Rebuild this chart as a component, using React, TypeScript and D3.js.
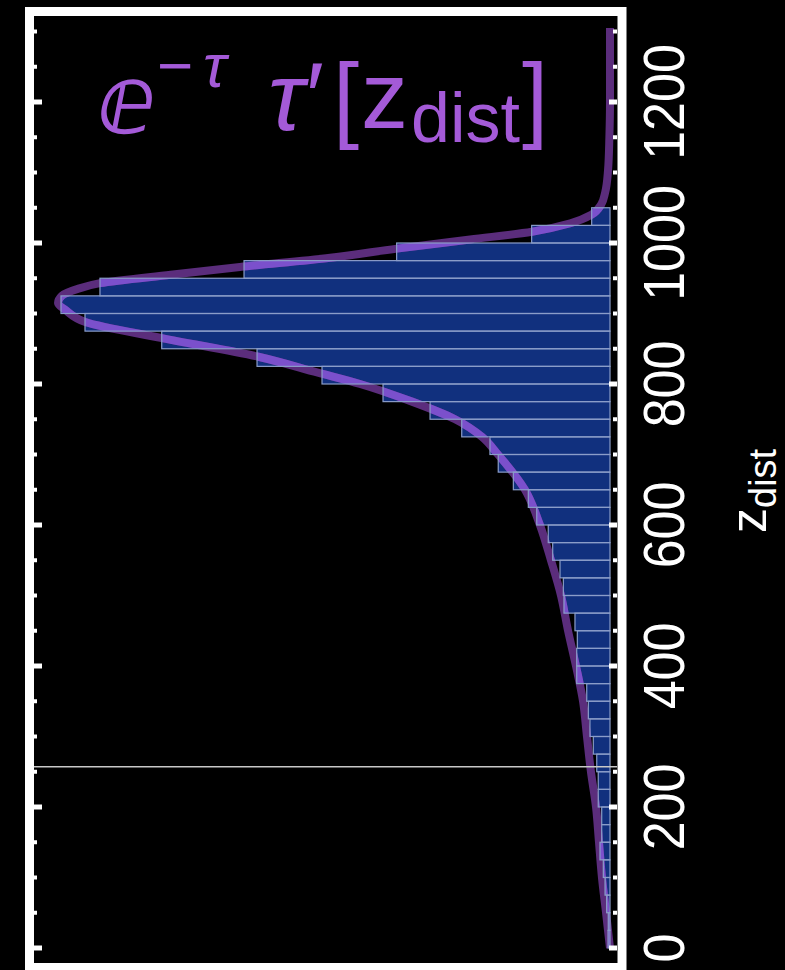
import React, { useRef, useEffect } from 'react';
import * as d3 from 'd3';

// histogram bins of z_dist (lower edge), width 25
const binStart = [0, 25, 50, 75, 100, 125, 150, 175, 200, 225, 250, 275, 300, 325, 350, 375, 400, 425, 450, 475,
    500, 525, 550, 575, 600, 625, 650, 675, 700, 725, 750, 775, 800, 825, 850, 875, 900, 925, 950, 975, 1000, 1025];
const binWidth = 25;
// density per bin (x 10^-3)
const binDensity = [0.016, 0.014, 0.027, 0.040, 0.054, 0.081, 0.067, 0.067, 0.095, 0.095, 0.107, 0.135, 0.162, 0.175,
    0.188, 0.269, 0.269, 0.264, 0.283, 0.372, 0.377, 0.404, 0.463, 0.499, 0.592, 0.660, 0.781, 0.903, 0.970, 1.198,
    1.454, 1.834, 2.327, 2.852, 3.622, 4.242, 4.436, 4.121, 2.957, 1.724, 0.633, 0.148];

// e^-tau tau'[z] curve, sampled points
const curveZ = [0, 50, 100, 150, 200, 250, 300, 350, 400, 450, 500, 550, 600, 650, 700, 725, 750, 775, 800, 816,
    839, 865, 888, 905, 915, 925, 935, 943, 955, 966, 979, 992, 1005, 1016, 1028, 1040, 1055, 1071, 1103, 1150, 1200, 1305];
const curveDensity = [0, 0.032, 0.065, 0.089, 0.113, 0.154, 0.186, 0.218, 0.275, 0.339, 0.396, 0.477, 0.566, 0.687,
    0.905, 1.034, 1.252, 1.60, 2.02, 2.36, 2.85, 3.62, 4.24, 4.40, 4.46, 4.43, 4.30, 4.12, 3.55, 2.99, 2.26, 1.72,
    1.13, 0.63, 0.32, 0.15, 0.07, 0.04, 0.016, 0.005, 0, 0];

const majorTicks = [0, 200, 400, 600, 800, 1000, 1200];
const markerZ = 257;

const W = 785;
const H = 970;
const PURPLE = '#a45ad8';

const App = () => {
    const chart = useRef<SVGSVGElement>(null);

    useEffect(() => {
        const svg = d3.select(chart.current);
        svg.selectAll('*').remove();

        const zScale = d3.scaleLinear().domain([0, 1200]).range([948, 102]);
        const dScale = d3.scaleLinear().domain([0, 4.65]).range([610, 34.5]);

        svg.append('rect').attr('width', W).attr('height', H).attr('fill', '#000');

        const bins = binStart.map((z, i) => ({ z0: z, z1: z + binWidth, d: binDensity[i] }));

        const setBar = (sel: any) => sel
            .attr('x', (b: any) => dScale(b.d))
            .attr('y', (b: any) => zScale(b.z1))
            .attr('width', (b: any) => dScale(0) - dScale(b.d))
            .attr('height', (b: any) => zScale(b.z0) - zScale(b.z1));

        svg.append('defs').append('clipPath').attr('id', 'barClip')
            .selectAll('rect').data(bins).enter().append('rect').call(setBar);

        svg.append('g').selectAll('rect').data(bins).enter().append('rect')
            .call(setBar)
            .attr('fill', '#11307e');

        const pts = curveZ.map((z, i) => ({ z, d: curveDensity[i] }));
        const line = d3.line<any>()
            .x(p => dScale(p.d))
            .y(p => zScale(p.z))
            .curve(d3.curveMonotoneY);

        svg.append('path')
            .attr('d', line(pts))
            .attr('fill', 'none')
            .attr('stroke', '#5b2d7c')
            .attr('stroke-width', 8)
            .attr('stroke-linejoin', 'round');

        svg.append('path')
            .attr('d', line(pts))
            .attr('fill', 'none')
            .attr('stroke', '#7b50cc')
            .attr('stroke-width', 8)
            .attr('clip-path', 'url(#barClip)');

        svg.append('g').selectAll('rect').data(bins).enter().append('rect')
            .call(setBar)
            .attr('fill', 'none')
            .attr('stroke', '#8b9dc9')
            .attr('stroke-width', 1.2);

        svg.append('line')
            .attr('x1', 34).attr('x2', 617)
            .attr('y1', zScale(markerZ)).attr('y2', zScale(markerZ))
            .attr('stroke', '#c8c8c8')
            .attr('stroke-width', 1.5);

        // ticks on both sides
        const minor = d3.range(0, 1301, 50).filter(v => v % 200 !== 0);
        const ticks = svg.append('g').attr('stroke', '#fff');
        majorTicks.forEach(v => {
            ticks.append('line').attr('x1', 617).attr('x2', 609).attr('y1', zScale(v)).attr('y2', zScale(v)).attr('stroke-width', 5);
            ticks.append('line').attr('x1', 34).attr('x2', 42).attr('y1', zScale(v)).attr('y2', zScale(v)).attr('stroke-width', 5);
        });
        minor.forEach(v => {
            ticks.append('line').attr('x1', 617).attr('x2', 613).attr('y1', zScale(v)).attr('y2', zScale(v)).attr('stroke-width', 4);
            ticks.append('line').attr('x1', 34).attr('x2', 37).attr('y1', zScale(v)).attr('y2', zScale(v)).attr('stroke-width', 4);
        });

        svg.append('rect')
            .attr('x', 29.5).attr('y', 11.5)
            .attr('width', 592.5).attr('height', 956)
            .attr('fill', 'none')
            .attr('stroke', '#fff')
            .attr('stroke-width', 9);

        svg.append('g').selectAll('text').data(majorTicks).enter().append('text')
            .attr('transform', d => `translate(684,${zScale(d)}) rotate(-90) scale(1,1.12)`)
            .attr('text-anchor', 'middle')
            .attr('fill', '#fff')
            .attr('font-family', 'Liberation Sans, Arial, sans-serif')
            .attr('font-size', 52)
            .text(d => d);

        const axisLabel = svg.append('text')
            .attr('transform', 'translate(766,533) rotate(-90)')
            .attr('fill', '#fff')
            .attr('font-family', 'Liberation Sans, Arial, sans-serif');
        axisLabel.append('tspan').attr('font-size', 50).text('z');
        axisLabel.append('tspan').attr('font-size', 38).attr('dy', 10).text('dist');

        // title e^-tau tau'[z_dist]
        const title = svg.append('g')
            .attr('fill', PURPLE)
            .attr('font-family', 'Liberation Sans, Arial, sans-serif');
        title.append('text').attr('x', 97).attr('y', 133).attr('font-size', 96)
            .attr('font-family', 'DejaVu Sans, sans-serif').text('ⅇ');
        title.append('text').attr('x', 157).attr('y', 87).attr('font-size', 62).text('−');
        title.append('text').attr('x', 203).attr('y', 87).attr('font-size', 62).attr('font-style', 'italic').text('τ');
        title.append('text').attr('x', 268).attr('y', 130).attr('font-size', 96).attr('font-style', 'italic').text('τ');
        title.append('text').attr('x', 306).attr('y', 130).attr('font-size', 96).text('′');
        title.append('text').attr('x', 333).attr('y', 130).attr('font-size', 94).text('[');
        title.append('text').attr('x', 361).attr('y', 128).attr('font-size', 94).text('z');
        title.append('text').attr('x', 411).attr('y', 142).attr('font-size', 70).text('dist');
        title.append('text').attr('x', 522).attr('y', 130).attr('font-size', 94).text(']');
    }, []);

    return (
        <div style={{ position: 'absolute', left: 0, top: 0, width: W, height: H, background: '#000' }}>
            <svg ref={chart} width={W} height={H} style={{ display: 'block' }}></svg>
        </div>
    );
};

export default App;
